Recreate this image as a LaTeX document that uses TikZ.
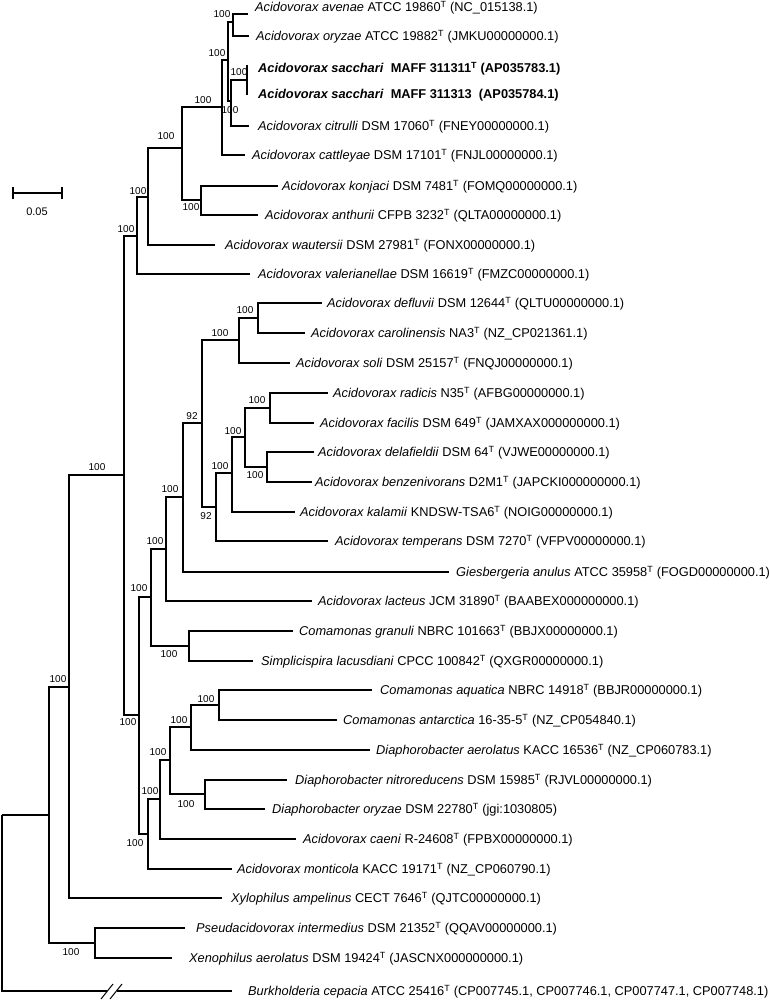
\documentclass[tikz,border=0pt]{standalone}
\usepackage{fontspec}
\setmainfont{Liberation Sans}
\newcommand\Tsup{\textsuperscript{T}}
\tikzset{
  branch/.style={line width=1.25pt, line join=miter},
  leaf/.style={anchor=west, inner sep=0pt, text height=9.2pt, text depth=0pt, font=\fontsize{12.8}{15}\selectfont},
  boldleaf/.style={leaf, font=\fontsize{12.8}{15}\selectfont\bfseries},
  bs/.style={inner sep=0pt, text height=7.2pt, text depth=0pt, font=\fontsize{10}{12}\selectfont},
  slash/.style={line width=1pt}
}
\begin{document}
\begin{tikzpicture}[x=1pt,y=-1pt]
\useasboundingbox (0,0) rectangle (770,1000);
% ---------- internal nodes ----------
\coordinate (root) at (2,815);
\coordinate (L) at (49,815);
\coordinate (K) at (69,687);
\coordinate (P) at (95,943);
\coordinate (I) at (124,475);
\coordinate (H) at (137,236);
\coordinate (G) at (148,197);
\coordinate (E) at (182,148);
\coordinate (F) at (201,200);
\coordinate (D) at (222,107);
\coordinate (AC) at (228,60);
\coordinate (A) at (233,22);
\coordinate (C) at (231,101);
\coordinate (S) at (247,80);
\coordinate (sacTop) at (247,65);
\coordinate (sacBot) at (247,95);
\coordinate (J) at (139,715);
\coordinate (N) at (151,597);
\coordinate (W) at (166,549);
\coordinate (X) at (183,497);
\coordinate (Y) at (202,423);
\coordinate (Z) at (239,340);
\coordinate (AA) at (258,318);
\coordinate (BB) at (216,507);
\coordinate (CC) at (232,473);
\coordinate (DD) at (245,437);
\coordinate (EE) at (270,408);
\coordinate (FF) at (267,467);
\coordinate (GG) at (189,646);
\coordinate (O) at (148,834);
\coordinate (Q) at (160,799);
\coordinate (R) at (170,760);
\coordinate (T) at (191,727);
\coordinate (V) at (219,705);
\coordinate (U) at (205,794);
\coordinate (avenaeE) at (248,14);
\coordinate (brkL) at (107,991);
\coordinate (brkR) at (117,991);
% ---------- leaves ----------
\node[leaf] (avenae) at (255,7) {\textit{Acidovorax avenae} ATCC 19860\Tsup{} (NC\_015138.1)};
\node[leaf] (oryzae) at (256,36) {\textit{Acidovorax oryzae} ATCC 19882\Tsup{} (JMKU00000000.1)};
\node[boldleaf] (sac1) at (258,68) {\textit{Acidovorax sacchari}\ \ MAFF 311311\Tsup{} (AP035783.1)};
\node[boldleaf] (sac2) at (258,94) {\textit{Acidovorax sacchari}\ \ MAFF 311313\ \ (AP035784.1)};
\node[leaf] (citrulli) at (258,126) {\textit{Acidovorax citrulli} DSM 17060\Tsup{} (FNEY00000000.1)};
\node[leaf] (cattleyae) at (252,155) {\textit{Acidovorax cattleyae} DSM 17101\Tsup{} (FNJL00000000.1)};
\node[leaf] (konjaci) at (282,186) {\textit{Acidovorax konjaci} DSM 7481\Tsup{} (FOMQ00000000.1)};
\node[leaf] (anthurii) at (265,215) {\textit{Acidovorax anthurii} CFPB 3232\Tsup{} (QLTA00000000.1)};
\node[leaf] (wautersii) at (225,245) {\textit{Acidovorax wautersii} DSM 27981\Tsup{} (FONX00000000.1)};
\node[leaf] (valer) at (258,274) {\textit{Acidovorax valerianellae} DSM 16619\Tsup{} (FMZC00000000.1)};
\node[leaf] (defluvii) at (327,303) {\textit{Acidovorax defluvii} DSM 12644\Tsup{} (QLTU00000000.1)};
\node[leaf] (carol) at (311,333) {\textit{Acidovorax carolinensis} NA3\Tsup{} (NZ\_CP021361.1)};
\node[leaf] (soli) at (296,363) {\textit{Acidovorax soli} DSM 25157\Tsup{} (FNQJ00000000.1)};
\node[leaf] (radicis) at (333,393) {\textit{Acidovorax radicis} N35\Tsup{} (AFBG00000000.1)};
\node[leaf] (facilis) at (320,423) {\textit{Acidovorax facilis} DSM 649\Tsup{} (JAMXAX000000000.1)};
\node[leaf] (delaf) at (318,452) {\textit{Acidovorax delafieldii} DSM 64\Tsup{} (VJWE00000000.1)};
\node[leaf] (benz) at (315,482) {\textit{Acidovorax benzenivorans} D2M1\Tsup{} (JAPCKI000000000.1)};
\node[leaf] (kalamii) at (300,512) {\textit{Acidovorax kalamii} KNDSW-TSA6\Tsup{} (NOIG00000000.1)};
\node[leaf] (temper) at (335,541) {\textit{Acidovorax temperans} DSM 7270\Tsup{} (VFPV00000000.1)};
\node[leaf] (giesb) at (456,572) {\textit{Giesbergeria anulus} ATCC 35958\Tsup{} (FOGD00000000.1)};
\node[leaf] (lacteus) at (318,601) {\textit{Acidovorax lacteus} JCM 31890\Tsup{} (BAABEX000000000.1)};
\node[leaf] (granuli) at (299,631) {\textit{Comamonas granuli} NBRC 101663\Tsup{} (BBJX00000000.1)};
\node[leaf] (simpl) at (261,661) {\textit{Simplicispira lacusdiani} CPCC 100842\Tsup{} (QXGR00000000.1)};
\node[leaf] (aquat) at (380,690) {\textit{Comamonas aquatica} NBRC 14918\Tsup{} (BBJR00000000.1)};
\node[leaf] (antarc) at (343,720) {\textit{Comamonas antarctica} 16-35-5\Tsup{} (NZ\_CP054840.1)};
\node[leaf] (aerol) at (376,750) {\textit{Diaphorobacter aerolatus} KACC 16536\Tsup{} (NZ\_CP060783.1)};
\node[leaf] (nitro) at (295,780) {\textit{Diaphorobacter nitroreducens} DSM 15985\Tsup{} (RJVL00000000.1)};
\node[leaf] (oryzaeD) at (272,809) {\textit{Diaphorobacter oryzae} DSM 22780\Tsup{} (jgi:1030805)};
\node[leaf] (caeni) at (303,839) {\textit{Acidovorax caeni} R-24608\Tsup{} (FPBX00000000.1)};
\node[leaf] (montic) at (237,869) {\textit{Acidovorax monticola} KACC 19171\Tsup{} (NZ\_CP060790.1)};
\node[leaf] (xylo) at (231,898) {\textit{Xylophilus ampelinus} CECT 7646\Tsup{} (QJTC00000000.1)};
\node[leaf] (pseud) at (196,928) {\textit{Pseudacidovorax intermedius} DSM 21352\Tsup{} (QQAV00000000.1)};
\node[leaf] (xeno) at (189,958) {\textit{Xenophilus aerolatus} DSM 19424\Tsup{} (JASCNX000000000.1)};
\node[leaf] (burk) at (248,991) {\textit{Burkholderia cepacia} ATCC 25416\Tsup{} (CP007745.1, CP007746.1, CP007747.1, CP007748.1)};
% ---------- branches ----------
\draw[branch] (root) |- (L);
\draw[branch] (root) |- (brkL);
\draw[branch, shorten >=16pt] (brkR) -- (burk.west);
\draw[slash] (101,999) -- (113,984);
\draw[slash] (110,999) -- (122,984);
\draw[branch] (L) |- (K);
\draw[branch] (L) |- (P);
\draw[branch] (K) |- (I);
\draw[branch, shorten >=9pt] (K) |- (xylo.west);
\draw[branch, shorten >=11pt] (P) |- (pseud.west);
\draw[branch, shorten >=17pt] (P) |- (xeno.west);
\draw[branch] (I) |- (H);
\draw[branch] (I) |- (J);
\draw[branch] (H) |- (G);
\draw[branch, shorten >=8pt] (H) |- (valer.west);
\draw[branch] (G) |- (E);
\draw[branch, shorten >=10pt] (G) |- (wautersii.west);
\draw[branch] (E) |- (D);
\draw[branch] (E) |- (F);
\draw[branch, shorten >=4pt] (F) |- (konjaci.west);
\draw[branch, shorten >=7pt] (F) |- (anthurii.west);
\draw[branch] (D) |- (AC);
\draw[branch, shorten >=7pt] (D) |- (cattleyae.west);
\draw[branch] (AC) |- (A);
\draw[branch] (AC) |- (C);
\draw[branch] (A) |- (avenaeE);
\draw[branch, shorten >=7pt] (A) |- (oryzae.west);
\draw[branch] (C) |- (S);
\draw[branch, shorten >=9pt] (C) |- (citrulli.west);
\draw[branch] (sacTop) -- (sacBot);
\draw[branch] (J) |- (N);
\draw[branch] (J) |- (O);
\draw[branch] (N) |- (W);
\draw[branch] (N) |- (GG);
\draw[branch] (W) |- (X);
\draw[branch, shorten >=6pt] (W) |- (lacteus.west);
\draw[branch] (X) |- (Y);
\draw[branch, shorten >=7pt] (X) |- (giesb.west);
\draw[branch] (Y) |- (Z);
\draw[branch] (Y) |- (BB);
\draw[branch] (Z) |- (AA);
\draw[branch, shorten >=6pt] (Z) |- (soli.west);
\draw[branch, shorten >=5pt] (AA) |- (defluvii.west);
\draw[branch, shorten >=6pt] (AA) |- (carol.west);
\draw[branch] (BB) |- (CC);
\draw[branch, shorten >=7pt] (BB) |- (temper.west);
\draw[branch] (CC) |- (DD);
\draw[branch, shorten >=5pt] (CC) |- (kalamii.west);
\draw[branch] (DD) |- (EE);
\draw[branch] (DD) |- (FF);
\draw[branch, shorten >=5pt] (EE) |- (radicis.west);
\draw[branch, shorten >=6pt] (EE) |- (facilis.west);
\draw[branch, shorten >=4pt] (FF) |- (delaf.west);
\draw[branch, shorten >=3pt] (FF) |- (benz.west);
\draw[branch, shorten >=6pt] (GG) |- (granuli.west);
\draw[branch, shorten >=8pt] (GG) |- (simpl.west);
\draw[branch] (O) |- (Q);
\draw[branch, shorten >=5pt] (O) |- (montic.west);
\draw[branch] (Q) |- (R);
\draw[branch, shorten >=7pt] (Q) |- (caeni.west);
\draw[branch] (R) |- (T);
\draw[branch] (R) |- (U);
\draw[branch] (T) |- (V);
\draw[branch, shorten >=6pt] (T) |- (aerol.west);
\draw[branch, shorten >=8pt] (V) |- (aquat.west);
\draw[branch, shorten >=6pt] (V) |- (antarc.west);
\draw[branch, shorten >=8pt] (U) |- (nitro.west);
\draw[branch, shorten >=7pt] (U) |- (oryzaeD.west);
% ---------- bootstrap values ----------
\node[bs] (lA) at (222,14) {100};
\node[bs] (lAC) at (217,53) {100};
\node[bs] (lS) at (239,72) {100};
\node[bs] (lC) at (230,110) {100};
\node[bs] (lD) at (203,100) {100};
\node[bs] (lE) at (166,136) {100};
\node[bs] (lF) at (191,207) {100};
\node[bs] (lG) at (138,191) {100};
\node[bs] (lH) at (126,229) {100};
\node[bs] (lI) at (97,467) {100};
\node[bs] (lK) at (58,679) {100};
\node[bs] (lP) at (71,952) {100};
\node[bs] (lJ) at (128,722) {100};
\node[bs] (lN) at (139,588) {100};
\node[bs] (lW) at (155,541) {100};
\node[bs] (lX) at (170,489) {100};
\node[bs] (lGG) at (169,654) {100};
\node[bs] (lY) at (192,416) {92};
\node[bs] (lZ) at (220,333) {100};
\node[bs] (lAA) at (245,310) {100};
\node[bs] (lBB) at (206,516) {92};
\node[bs] (lCC) at (220,466) {100};
\node[bs] (lDD) at (233,431) {100};
\node[bs] (lEE) at (257,400) {100};
\node[bs] (lFF) at (255,475) {100};
\node[bs] (lO) at (135,843) {100};
\node[bs] (lQ) at (150,791) {100};
\node[bs] (lR) at (158,752) {100};
\node[bs] (lT) at (179,720) {100};
\node[bs] (lU) at (186,804) {100};
\node[bs] (lV) at (206,699) {100};
% ---------- scale bar ----------
\coordinate (sbL) at (13,193);
\coordinate (sbR) at (62,193);
\draw[branch] (sbL) -- (sbR);
\draw[branch] ([yshift=-6pt]sbL) -- ([yshift=6pt]sbL);
\draw[branch] ([yshift=-6pt]sbR) -- ([yshift=6pt]sbR);
\node[bs, font=\fontsize{11}{13}\selectfont] (sbLabel) at (37,212) {0.05};
\end{tikzpicture}
\end{document}
